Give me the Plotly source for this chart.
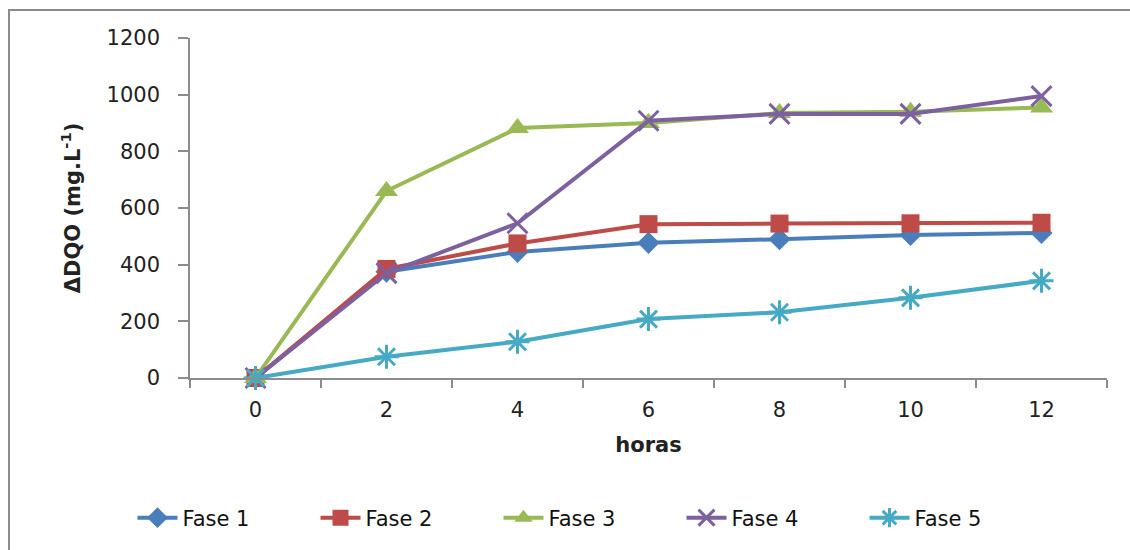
import plotly.graph_objects as go

# Sampling times (hours) and COD removal per phase
horas = [0, 2, 4, 6, 8, 10, 12]
fase1 = [0, 375, 445, 477, 490, 505, 512]
fase2 = [0, 385, 475, 543, 545, 546, 548]
fase3 = [0, 660, 882, 900, 935, 940, 955]
fase4 = [0, 370, 546, 908, 932, 932, 995]
fase5 = [0, 75, 128, 208, 232, 283, 343]

series_names = ["Fase 1", "Fase 2", "Fase 3", "Fase 4", "Fase 5"]
series_values = [fase1, fase2, fase3, fase4, fase5]
colors = ["#4A7EBB", "#BE4B48", "#98B954", "#7D60A0", "#46AAC5"]
symbols = ["diamond", "square", "triangle-up", "x-thin-open", "asterisk-open"]
sizes = [17, 18, 20, 20, 20]

fig = go.Figure()
for name, vals, col, sym, sz in zip(series_names, series_values, colors, symbols, sizes):
    open_sym = sym.endswith("open")
    fig.add_trace(go.Scatter(
        x=horas, y=vals, name=name, mode="lines+markers",
        line=dict(color=col, width=4),
        marker=dict(symbol=sym, size=sz, color=col,
                    line=dict(color=col, width=3 if open_sym else 0)),
    ))

L, R, T, B = 190, 23, 38, 172
W, H = 1130, 550
pw, ph = W - L - R, H - T - B

fig.update_layout(
    width=W, height=H,
    margin=dict(l=L, r=R, t=T, b=B, autoexpand=False),
    paper_bgcolor="white", plot_bgcolor="white",
    font=dict(family="DejaVu Sans", size=21, color="#222"),
    showlegend=True,
    legend=dict(
        orientation="h", xanchor="center", yanchor="middle",
        x=(590 - L) / pw, y=(T + ph - 518) / ph,
        font=dict(family="DejaVu Sans", size=21, color="#111"),
        entrywidth=128, itemwidth=40, tracegroupgap=0,
    ),
    xaxis=dict(
        range=[-1, 13], tickvals=horas, ticktext=[str(h) for h in horas],
        ticks="", ticklabelstandoff=12,
        showline=True, linecolor="#8C8C8C", linewidth=1.5,
        showgrid=False, zeroline=False,
        minor=dict(tickvals=list(range(-1, 14, 2)), ticks="outside",
                   ticklen=8, tickcolor="#8C8C8C", tickwidth=1.5, showgrid=False),
        title=dict(text="horas", font=dict(family="DejaVu Sans", size=21, weight="bold"),
                   standoff=16),
        tickfont=dict(size=21),
    ),
    yaxis=dict(
        range=[0, 1200], tickvals=[0, 200, 400, 600, 800, 1000, 1200],
        ticks="outside", ticklen=10, tickcolor="#8C8C8C", tickwidth=1.5,
        ticklabelstandoff=14,
        showline=True, linecolor="#8C8C8C", linewidth=1.5,
        showgrid=False, zeroline=False,
        title=dict(text="ΔDQO (mg.L<sup>-1</sup>)",
                   font=dict(family="DejaVu Sans", size=21, weight="bold"),
                   standoff=20),
        tickfont=dict(size=21),
    ),
)

# Outer chart frame (its right and bottom edges fall outside the page)
fig.add_shape(
    type="rect", xref="paper", yref="paper",
    x0=(9 - L) / pw, x1=(1200 - L) / pw,
    y0=(T + ph - 620) / ph, y1=(T + ph - 10) / ph,
    line=dict(color="#8C8C8C", width=2), fillcolor="rgba(0,0,0,0)", layer="below",
)

fig.update_traces(cliponaxis=False)
fig.write_html("out.html")
